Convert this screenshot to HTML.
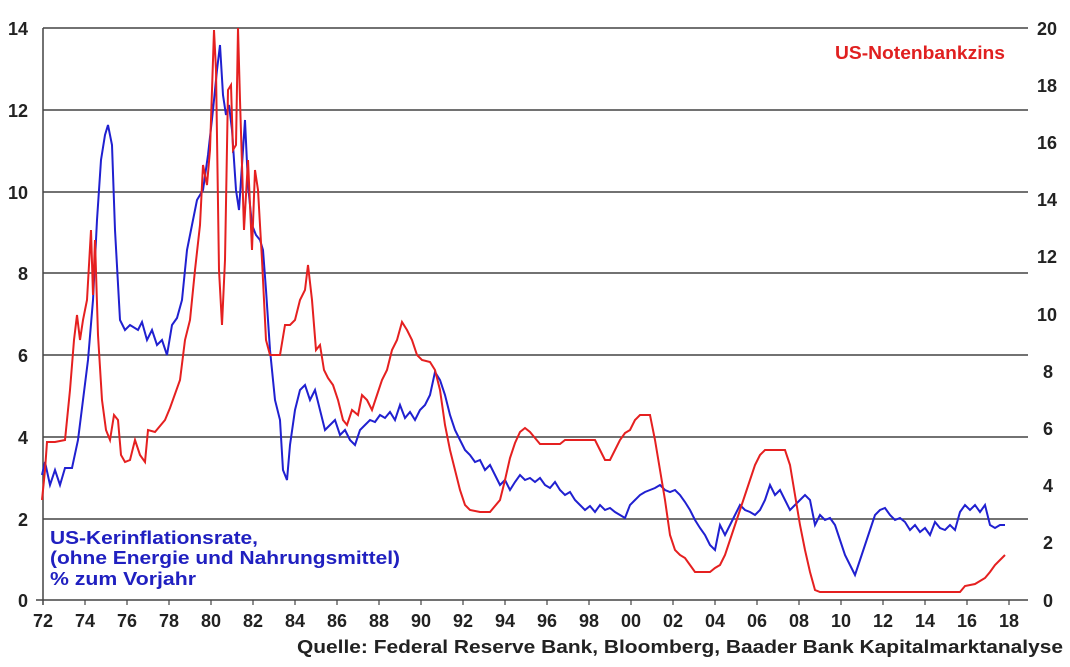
<!DOCTYPE html>
<html><head><meta charset="utf-8"><style>
body{margin:0;background:#fff;}
svg text{font-family:"Liberation Sans",sans-serif;}
</style></head><body>
<svg width="1070" height="662" viewBox="0 0 1070 662" xmlns="http://www.w3.org/2000/svg">
<g stroke="#444" stroke-width="1.5">
<line x1="43" y1="28" x2="1028" y2="28"/><line x1="43" y1="110" x2="1028" y2="110"/><line x1="43" y1="192" x2="1028" y2="192"/><line x1="43" y1="273" x2="1028" y2="273"/><line x1="43" y1="355" x2="1028" y2="355"/><line x1="43" y1="437" x2="1028" y2="437"/><line x1="43" y1="519" x2="1028" y2="519"/><line x1="36" y1="600" x2="1028" y2="600"/>
<line x1="43" y1="28" x2="43" y2="605"/>
</g>
<g stroke="#444" stroke-width="1.2">
<line x1="85" y1="600" x2="85" y2="605"/><line x1="127" y1="600" x2="127" y2="605"/><line x1="169" y1="600" x2="169" y2="605"/><line x1="211" y1="600" x2="211" y2="605"/><line x1="253" y1="600" x2="253" y2="605"/><line x1="295" y1="600" x2="295" y2="605"/><line x1="337" y1="600" x2="337" y2="605"/><line x1="379" y1="600" x2="379" y2="605"/><line x1="421" y1="600" x2="421" y2="605"/><line x1="463" y1="600" x2="463" y2="605"/><line x1="505" y1="600" x2="505" y2="605"/><line x1="547" y1="600" x2="547" y2="605"/><line x1="589" y1="600" x2="589" y2="605"/><line x1="631" y1="600" x2="631" y2="605"/><line x1="673" y1="600" x2="673" y2="605"/><line x1="715" y1="600" x2="715" y2="605"/><line x1="757" y1="600" x2="757" y2="605"/><line x1="799" y1="600" x2="799" y2="605"/><line x1="841" y1="600" x2="841" y2="605"/><line x1="883" y1="600" x2="883" y2="605"/><line x1="925" y1="600" x2="925" y2="605"/><line x1="967" y1="600" x2="967" y2="605"/><line x1="1009" y1="600" x2="1009" y2="605"/>
</g>
<g font-size="18" font-weight="bold" fill="#222" text-anchor="end">
<text x="28" y="35">14</text><text x="28" y="117">12</text><text x="28" y="199">10</text><text x="28" y="280">8</text><text x="28" y="362">6</text><text x="28" y="444">4</text><text x="28" y="526">2</text><text x="28" y="607">0</text>
</g>
<g font-size="18" font-weight="bold" fill="#222" text-anchor="start">
<text x="1037" y="35">20</text><text x="1037" y="92">18</text><text x="1037" y="149">16</text><text x="1037" y="206">14</text><text x="1037" y="263">12</text><text x="1037" y="321">10</text><text x="1043" y="378">8</text><text x="1043" y="435">6</text><text x="1043" y="492">4</text><text x="1043" y="549">2</text><text x="1043" y="607">0</text>
</g>
<g font-size="18" font-weight="bold" fill="#222" text-anchor="middle">
<text x="43" y="627">72</text><text x="85" y="627">74</text><text x="127" y="627">76</text><text x="169" y="627">78</text><text x="211" y="627">80</text><text x="253" y="627">82</text><text x="295" y="627">84</text><text x="337" y="627">86</text><text x="379" y="627">88</text><text x="421" y="627">90</text><text x="463" y="627">92</text><text x="505" y="627">94</text><text x="547" y="627">96</text><text x="589" y="627">98</text><text x="631" y="627">00</text><text x="673" y="627">02</text><text x="715" y="627">04</text><text x="757" y="627">06</text><text x="799" y="627">08</text><text x="841" y="627">10</text><text x="883" y="627">12</text><text x="925" y="627">14</text><text x="967" y="627">16</text><text x="1009" y="627">18</text>
</g>
<text x="297" y="653" font-size="18" font-weight="bold" fill="#222" textLength="766" lengthAdjust="spacingAndGlyphs">Quelle: Federal Reserve Bank, Bloomberg, Baader Bank Kapitalmarktanalyse</text>
<text x="835" y="59" font-size="18" font-weight="bold" fill="#e02020" textLength="170" lengthAdjust="spacingAndGlyphs">US-Notenbankzins</text>
<g font-size="18" font-weight="bold" fill="#2020c0">
<text x="50" y="544" textLength="208" lengthAdjust="spacingAndGlyphs">US-Kerinflationsrate,</text>
<text x="50" y="564" textLength="350" lengthAdjust="spacingAndGlyphs">(ohne Energie und Nahrungsmittel)</text>
<text x="50" y="585" textLength="146" lengthAdjust="spacingAndGlyphs">% zum Vorjahr</text>
</g>
<polyline fill="none" stroke="#2020d0" stroke-width="2" points="42,475 45,462 50,485 55,470 60,485 65,468 72,468 78,440 83,400 88,360 93,300 97,220 101,160 105,135 108,125 112,145 115,230 120,320 125,330 130,325 138,330 142,322 147,340 152,330 157,345 162,340 167,355 172,325 177,318 182,300 187,250 192,225 197,200 203,190 208,155 213,110 217,70 220,45 223,95 226,115 229,105 232,130 236,190 239,210 242,165 245,120 248,185 252,225 256,235 260,240 263,250 266,290 270,350 275,400 280,420 283,470 287,480 290,445 295,410 300,390 305,385 310,400 315,390 320,410 325,430 330,425 335,420 340,435 345,430 350,440 355,445 360,430 365,425 370,420 375,422 380,415 385,418 390,412 395,420 400,405 405,418 410,412 415,420 420,410 425,405 430,395 435,372 440,380 445,395 450,415 455,430 460,440 465,450 470,455 475,462 480,460 485,470 490,465 495,475 500,485 505,480 510,490 515,482 520,475 525,480 530,478 535,482 540,478 545,485 550,488 555,482 560,490 565,495 570,492 575,500 580,505 585,510 590,506 595,512 600,505 605,510 610,508 615,512 620,515 625,518 630,505 635,500 640,495 645,492 650,490 655,488 660,485 665,490 670,492 675,490 680,495 685,502 690,510 695,520 700,528 705,535 710,545 715,550 720,525 725,535 730,525 735,515 740,505 745,510 750,512 755,515 760,510 765,500 770,485 775,495 780,490 785,500 790,510 795,505 800,500 805,495 810,500 815,525 820,515 825,520 830,518 835,525 840,540 845,555 850,565 855,575 860,560 865,545 870,530 875,515 880,510 885,508 890,515 895,520 900,518 905,522 910,530 915,525 920,532 925,528 930,535 935,522 940,528 945,530 950,525 955,530 960,512 965,505 970,510 975,505 980,512 985,505 990,525 995,528 1000,525 1005,525"/>
<polyline fill="none" stroke="#e52020" stroke-width="2" points="42,500 45,470 47,442 55,442 65,440 70,390 74,340 77,315 80,340 83,320 87,300 91,230 93,295 95,240 98,335 102,400 106,430 110,440 114,415 118,420 121,455 125,462 130,460 135,440 140,455 145,462 148,430 155,432 165,420 170,408 180,380 185,340 190,320 195,270 200,225 203,165 207,185 210,150 212,90 214,30 216,70 219,270 222,325 225,260 228,90 231,85 233,150 236,145 238,28 240,100 244,230 248,160 252,250 255,170 258,190 262,260 266,340 270,355 275,355 280,355 285,325 290,325 295,320 300,300 305,290 308,265 312,300 316,350 320,345 324,370 328,378 333,385 338,400 343,420 347,425 352,410 358,415 362,395 367,400 372,410 377,395 382,380 387,370 392,350 397,340 402,322 407,330 412,340 417,355 422,360 430,362 435,370 440,390 445,425 450,450 455,470 460,490 465,505 470,510 480,512 490,512 500,500 505,480 510,458 515,443 520,432 525,428 530,432 535,438 540,444 560,444 565,440 595,440 600,450 605,460 610,460 615,450 620,440 625,433 630,430 635,420 640,415 650,415 655,440 660,470 665,500 670,535 675,550 680,555 685,558 690,565 695,572 710,572 715,568 720,565 725,555 730,540 735,525 740,510 745,495 750,480 755,465 760,455 765,450 785,450 790,465 795,495 800,525 805,550 810,572 815,590 820,592 960,592 965,586 975,584 985,578 990,572 995,565 1000,560 1005,555"/>
</svg>
</body></html>
